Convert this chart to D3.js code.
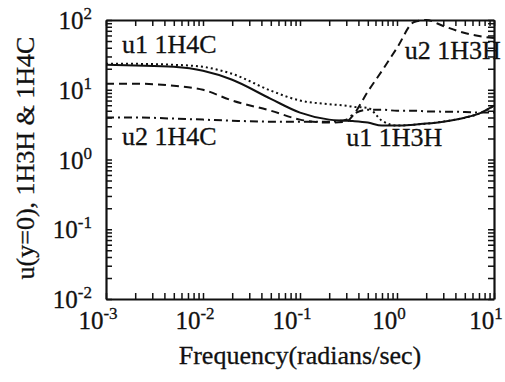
<!DOCTYPE html>
<html>
<head>
<meta charset="utf-8">
<script src="https://cdn.jsdelivr.net/npm/d3@7"></script>
<style>
  body { margin: 0; background: #fff; }
  text { font-family: "Liberation Serif", "Times New Roman", serif; fill: #111; stroke: #111; stroke-width: 0.3px; }
</style>
</head>
<body>
<div id="chart"></div>
<script>
// frequencies (radians/sec)
var freq = [0.001, 0.002, 0.005, 0.01, 0.02, 0.05, 0.1, 0.2, 0.3, 0.35, 0.5, 0.7, 1, 1.5, 2, 3, 5, 7, 10];

var solidVals   = [22.8, 22.3, 21.3, 18.7, 13.9, 7.4, 4.7, 3.73, 3.6, 3.55, 3.38, 3.06, 3.06, 3.16, 3.27, 3.49, 3.98, 4.54, 5.9];
var dottedVals  = [23.5, 23.5, 22.8, 21.3, 16.9, 9.7, 7.0, 6.2, 5.9, 5.7, 5.5, 3.6, 3.06, 3.16, 3.27, 3.49, 3.98, 4.54, 5.9];
var dashedVals  = [12.2, 12.2, 11.4, 10, 7.0, 5.0, 3.73, 3.38, 3.49, 4.25, 9.4, 18.7, 39.8, 93.6, 100, 82, 65, 59, 55];
var dashDotVals = [4.0, 4.0, 3.86, 3.73, 3.6, 3.49, 3.49, 3.49, 3.73, 4.4, 5.18, 5.18, 5.0, 5.0, 4.9, 4.85, 4.8, 4.7, 4.7];

var xExps = [-3, -2, -1, 0, 1];
var yExps = [-2, -1, 0, 1, 2];

var annotations = [
  {text: "u1 1H4C", f: 0.00146, v: 34},
  {text: "u2 1H4C", f: 0.00146, v: 1.6},
  {text: "u1 1H3H", f: 0.30, v: 1.55},
  {text: "u2 1H3H", f: 1.2, v: 28}
];

var series = [
  {vals: solidVals, dash: null},
  {vals: dottedVals, dash: "2,3"},
  {vals: dashedVals, dash: "8,5"},
  {vals: dashDotVals, dash: "8,4,2,4"}
];

var width = 505, height = 382;
var margin = {top: 20, right: 11, bottom: 83, left: 106};

var svg = d3.select("#chart").append("svg")
  .attr("width", width)
  .attr("height", height);

var x = d3.scaleLog().domain([1e-3, 1e1]).range([margin.left, width - margin.right]);
var y = d3.scaleLog().domain([1e-2, 1e2]).range([height - margin.bottom, margin.top]);

function logTicks(lo, hi) {
  var t = [];
  for (var k = lo; k < hi; k++) {
    for (var m = 1; m < 10; m++) t.push(m * Math.pow(10, k));
  }
  t.push(Math.pow(10, hi));
  return t;
}
var xTicks = logTicks(-3, 1);
var yTicks = logTicks(-2, 2);

function styleAxis(g) {
  g.select(".domain").attr("stroke", "#111").attr("stroke-width", 2.2);
  g.selectAll(".tick line").attr("stroke", "#111").attr("stroke-width", 1.5);
}

svg.append("g")
  .attr("transform", "translate(0," + (height - margin.bottom) + ")")
  .call(d3.axisBottom(x).tickValues(xTicks).tickSize(-6).tickSizeOuter(0).tickFormat(""))
  .call(styleAxis);
svg.append("g")
  .attr("transform", "translate(0," + margin.top + ")")
  .call(d3.axisTop(x).tickValues(xTicks).tickSize(-6).tickSizeOuter(0).tickFormat(""))
  .call(styleAxis);
svg.append("g")
  .attr("transform", "translate(" + margin.left + ",0)")
  .call(d3.axisLeft(y).tickValues(yTicks).tickSize(-6).tickSizeOuter(0).tickFormat(""))
  .call(styleAxis);
svg.append("g")
  .attr("transform", "translate(" + (width - margin.right) + ",0)")
  .call(d3.axisRight(y).tickValues(yTicks).tickSize(-6).tickSizeOuter(0).tickFormat(""))
  .call(styleAxis);

// tick labels with superscripts
function powLabel(sel, e) {
  sel.append("tspan").attr("font-size", 25).text("10");
  sel.append("tspan").attr("font-size", 17).attr("dy", -10).text(e);
}

xExps.forEach(function(e) {
  var t = svg.append("text")
    .attr("x", x(Math.pow(10, e)) - 8)
    .attr("y", height - margin.bottom + 30)
    .attr("text-anchor", "middle");
  powLabel(t, e);
});

yExps.forEach(function(e) {
  var t = svg.append("text")
    .attr("x", margin.left - 14)
    .attr("y", y(Math.pow(10, e)) + 9)
    .attr("text-anchor", "end");
  powLabel(t, e);
});

svg.append("text")
  .attr("x", (margin.left + width - margin.right) / 2)
  .attr("y", 364)
  .attr("text-anchor", "middle")
  .attr("font-size", 26)
  .text("Frequency(radians/sec)");

svg.append("text")
  .attr("transform", "translate(34," + 158 + ") rotate(-90)")
  .attr("text-anchor", "middle")
  .attr("font-size", 26)
  .text("u(y=0), 1H3H & 1H4C");

var line = d3.line()
  .x(function(d) { return x(d[0]); })
  .y(function(d) { return y(d[1]); })
  .curve(d3.curveMonotoneX);

series.forEach(function(s) {
  svg.append("path")
    .datum(freq.map(function(f, i) { return [f, s.vals[i]]; }))
    .attr("fill", "none")
    .attr("stroke", "#111")
    .attr("stroke-width", 2)
    .attr("stroke-dasharray", s.dash)
    .attr("d", line);
});

svg.selectAll(".ann")
  .data(annotations)
  .enter().append("text")
  .attr("class", "ann")
  .attr("x", function(d) { return x(d.f); })
  .attr("y", function(d) { return y(d.v); })
  .attr("font-size", 26)
  .text(function(d) { return d.text; });
</script>
</body>
</html>
